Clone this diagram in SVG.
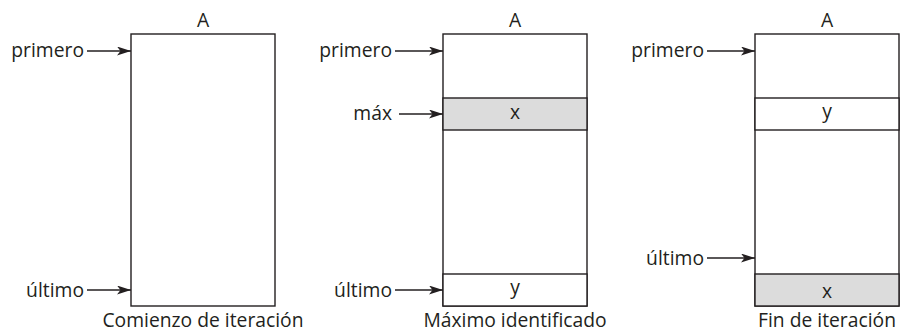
<svg xmlns="http://www.w3.org/2000/svg" width="903" height="333" viewBox="0 0 903 333">
<defs>
<marker id="ah" markerWidth="14" markerHeight="9" refX="14" refY="4.5" orient="auto" markerUnits="userSpaceOnUse">
<path d="M0,0 L14,4.5 L0,9 L3.5,4.5 Z" fill="#231f20"/>
</marker>
</defs>
<style>
text{font-family:"Open Sans","Liberation Sans",sans-serif;font-size:19.3px;fill:#231f20}
.box{fill:#fff;stroke:#231f20;stroke-width:1.4}
.grey{fill:#dcdcdc;stroke:#231f20;stroke-width:1.4}
.c{text-anchor:middle}
.r{text-anchor:end}
.arr{stroke:#231f20;stroke-width:1.3;fill:none;marker-end:url(#ah)}
</style>
<rect width="903" height="333" fill="#fff"/>
<g id="panel1">
<rect class="box" x="131" y="34" width="144" height="272"/>
<text class="c" x="203" y="27">A</text>
<text class="r" x="84" y="57">primero</text>
<text class="r" x="84" y="297">último</text>
<text class="c" x="203" y="327">Comienzo de iteración</text>
</g>
<g id="panel2">
<rect class="box" x="443" y="34" width="144" height="272"/>
<rect class="grey" x="443" y="98" width="144" height="32"/>
<rect class="box" x="443" y="274" width="144" height="32"/>
<text class="c" x="515" y="27">A</text>
<text class="c" x="515" y="119">x</text>
<text class="c" x="515" y="294">y</text>
<text class="r" x="392" y="57">primero</text>
<text class="r" x="392" y="120">máx</text>
<text class="r" x="392" y="297">último</text>
<text class="c" x="515" y="327">Máximo identificado</text>
</g>
<g id="panel3">
<rect class="box" x="755" y="34" width="144" height="272"/>
<rect class="box" x="755" y="98" width="144" height="32"/>
<rect class="grey" x="755" y="274" width="144" height="32"/>
<text class="c" x="827" y="27">A</text>
<text class="c" x="827" y="118">y</text>
<text class="c" x="827" y="298">x</text>
<text class="r" x="704" y="57">primero</text>
<text class="r" x="704" y="265">último</text>
<text class="c" x="827" y="327">Fin de iteración</text>
</g>
<g id="connectors">
<line class="arr" x1="87" y1="51" x2="131" y2="51"/>
<line class="arr" x1="87" y1="290" x2="131" y2="290"/>
<line class="arr" x1="395" y1="51" x2="443" y2="51"/>
<line class="arr" x1="399" y1="114" x2="443" y2="114"/>
<line class="arr" x1="395" y1="290" x2="443" y2="290"/>
<line class="arr" x1="707" y1="51" x2="755" y2="51"/>
<line class="arr" x1="707" y1="258" x2="755" y2="258"/>
</g>
</svg>
